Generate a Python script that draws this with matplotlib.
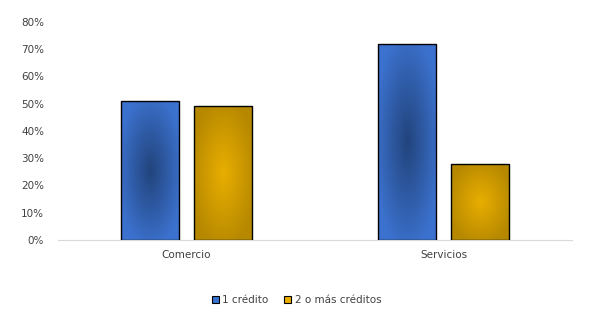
import numpy as np
import matplotlib.pyplot as plt
from matplotlib.colors import LinearSegmentedColormap
from matplotlib.patches import Patch

categories = ["Comercio", "Servicios"]
series_names = ["1 crédito", "2 o más créditos"]
uno_credito = [51, 72]
dos_o_mas = [49, 28]

# center / edge colours of the radial fill
blue_center, blue_edge = "#22447C", "#3C72CF"
gold_center, gold_edge = "#E8AE00", "#B68800"


def radial_fill(ax, patch, c_center, c_edge):
    x0, y0 = patch.get_x(), patch.get_y()
    w, h = patch.get_width(), patch.get_height()
    n = 200
    xx, yy = np.meshgrid(np.linspace(-1, 1, n), np.linspace(-1, 1, n))
    r = np.clip(np.sqrt(xx ** 2 + yy ** 2) / 1.15, 0, 1)
    cmap = LinearSegmentedColormap.from_list("g", [c_center, c_edge])
    im = ax.imshow(r, cmap=cmap, vmin=0, vmax=1, extent=[x0, x0 + w, y0, y0 + h],
                   aspect="auto", origin="lower", zorder=2, interpolation="bilinear")
    im.set_clip_path(patch)


fig = plt.figure(figsize=(5.93, 3.22), dpi=100)
ax = fig.add_axes([0.0978, 0.2547, 0.8668, 0.677])

x = np.arange(len(categories))
width = 0.226
off = 0.141
b1 = ax.bar(x - off, uno_credito, width, facecolor="none", edgecolor="black", linewidth=1.0, zorder=3)
b2 = ax.bar(x + off, dos_o_mas, width, facecolor="none", edgecolor="black", linewidth=1.0, zorder=3)
for p in b1:
    radial_fill(ax, p, blue_center, blue_edge)
for p in b2:
    radial_fill(ax, p, gold_center, gold_edge)

ax.set_xlim(-0.5, 1.5)
ax.set_ylim(0, 80)
ax.set_yticks(range(0, 81, 10))
ax.set_yticklabels([f"{v}%" for v in range(0, 81, 10)])
ax.set_xticks(x)
ax.set_xticklabels(categories)
ax.tick_params(length=0, labelsize=7.5, colors="#404040")
ax.tick_params(axis="y", pad=10)
ax.tick_params(axis="x", pad=7)
for s in ["top", "right", "left"]:
    ax.spines[s].set_visible(False)
ax.spines["bottom"].set_color("#D9D9D9")

handles = [Patch(facecolor=blue_edge, edgecolor="black", linewidth=0.8),
           Patch(facecolor=gold_center, edgecolor="black", linewidth=0.8)]
leg = fig.legend(handles, series_names, loc="center", bbox_to_anchor=(0.5, 0.068), ncol=2,
                 frameon=False, fontsize=7.5, handlelength=0.7, handleheight=0.7,
                 handletextpad=0.3, columnspacing=1.5)
for t in leg.get_texts():
    t.set_color("#404040")

fig.savefig("out.png", dpi=100)
